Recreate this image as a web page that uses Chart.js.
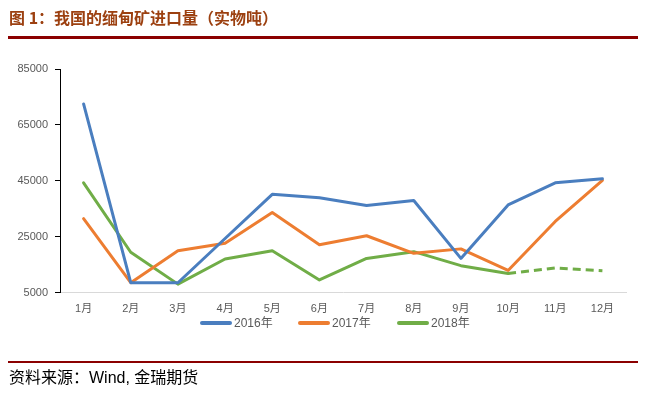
<!DOCTYPE html>
<html><head><meta charset="utf-8">
<script src="https://cdn.jsdelivr.net/npm/chart.js@4.4.0/dist/chart.umd.min.js"></script>
<style>
html,body{margin:0;padding:0;background:#fff;width:645px;height:393px;overflow:hidden;font-family:"Liberation Sans","Noto Sans CJK SC",sans-serif;}
#wrap{position:relative;width:645px;height:393px;}
#title{position:absolute;left:9px;top:5px;font-family:"Noto Sans CJK SC",sans-serif;font-weight:bold;font-size:16px;color:#9c4010;white-space:nowrap;}
#rule1{position:absolute;left:8px;top:36px;width:630px;height:3px;background:#8b0000;}
#rule2{position:absolute;left:8px;top:361px;width:630px;height:2px;background:#8b0000;}
#src{position:absolute;left:9px;top:364px;font-family:"Liberation Sans","Noto Sans CJK SC",sans-serif;font-size:16px;color:#000;white-space:nowrap;}
#c{position:absolute;left:0;top:0;}
#legend{position:absolute;top:315px;left:0;width:645px;height:16px;font-size:12px;color:#595959;font-family:"Liberation Sans","Noto Sans CJK SC",sans-serif;}
.li{position:absolute;top:0;height:16px;line-height:16px;white-space:nowrap;}
.sw{display:inline-block;width:32px;height:4px;border-radius:2px;vertical-align:middle;margin-right:2px;position:relative;top:-1px;}
</style></head>
<body><div id="wrap">
<canvas id="c" width="645" height="393"></canvas>
<div id="title">图 1：我国的缅甸矿进口量（实物吨）</div>
<div id="rule1"></div>
<div id="legend"></div>
<div id="rule2"></div>
<div id="src">资料来源：Wind, 金瑞期货</div>
</div>
<script>
const categories = ["1月","2月","3月","4月","5月","6月","7月","8月","9月","10月","11月","12月"];
const seriesNames = ["2016年","2017年","2018年"];
const values2016 = [72500, 8600, 8600, 24400, 40200, 39000, 36200, 38000, 17300, 36400, 44300, 45800];
const values2017 = [31500, 8600, 20000, 22700, 33700, 22200, 25400, 19100, 20700, 13000, 30500, 45200];
const values2018 = [44300, 19500, 8100, 17100, 20000, 9600, 17300, 19700, 14700, 11900, 13900, 12900];
const yTicks = [5000, 25000, 45000, 65000, 85000];
const colors = ["#4a7ebf", "#ed7d31", "#70ad47"];

const dashFrom2018 = 9; // index where 2018 line turns dashed

const datasets = [values2016, values2017, values2018].map((v, i) => ({
  label: seriesNames[i],
  data: v,
  borderColor: colors[i],
  backgroundColor: colors[i],
  borderWidth: 3,
  pointRadius: 0,
  tension: 0,
  borderCapStyle: 'round',
  borderJoinStyle: 'round',
  segment: i === 2 ? { borderDash: ctx => ctx.p0DataIndex >= dashFrom2018 ? [8, 5] : undefined, borderCapStyle: ctx => ctx.p0DataIndex >= dashFrom2018 ? 'butt' : 'round' } : undefined
}));

new Chart(document.getElementById('c'), {
  type: 'line',
  data: { labels: categories, datasets },
  options: {
    responsive: false,
    animation: false,
    events: [],
    layout: { padding: { left: 0, right: 19, top: 69, bottom: 67 } },
    plugins: { legend: { display: false }, tooltip: { enabled: false } },
    scales: {
      x: {
        offset: true,
        grid: { display: false, drawTicks: false },
        border: { display: true, color: '#d9d9d9', width: 1 },
        ticks: { color: '#595959', font: { size: 11, family: '"Liberation Sans","Noto Sans CJK SC",sans-serif' }, padding: 10, maxRotation: 0, autoSkip: false }
      },
      y: {
        min: 5000, max: 85000,
        afterBuildTicks: s => { s.ticks = yTicks.map(v => ({ value: v })); },
        afterFit: s => { s.width = 60; },
        grid: { display: true, drawOnChartArea: false, drawTicks: true, tickLength: 5, color: '#000' },
        border: { display: true, color: '#000', width: 1 },
        ticks: { color: '#595959', font: { size: 11, family: '"Liberation Sans",sans-serif' }, padding: 7, callback: v => String(v) }
      }
    }
  }
});

const lg = document.getElementById('legend');
const lefts = [200, 298, 397];
seriesNames.forEach((n, i) => {
  const d = document.createElement('div');
  d.className = 'li';
  d.style.left = lefts[i] + 'px';
  d.innerHTML = '<span class="sw" style="background:' + colors[i] + '"></span>' + n;
  lg.appendChild(d);
});
</script>
</body></html>
